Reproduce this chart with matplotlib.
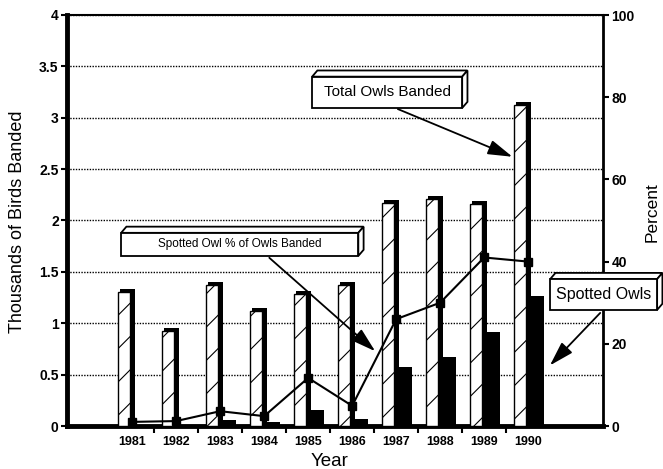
import numpy as np
import matplotlib
matplotlib.use("Agg")
import matplotlib.pyplot as plt
from matplotlib.patches import Rectangle, Polygon, FancyArrowPatch

plt.rcParams['font.family'] = ['Liberation Sans', 'DejaVu Sans']
plt.rcParams['hatch.linewidth'] = 0.8

# data
years = ['1981', '1982', '1983', '1984', '1985', '1986', '1987', '1988', '1989', '1990']
total_owls = [1.30, 0.92, 1.37, 1.12, 1.28, 1.37, 2.17, 2.21, 2.16, 3.12]    # thousands
spotted_owls = [0.01, 0.01, 0.06, 0.04, 0.16, 0.07, 0.57, 0.67, 0.91, 1.27]  # thousands
spotted_pct = [1.0, 1.2, 3.6, 2.4, 11.7, 4.9, 26, 30, 41, 40]                # percent

left_ticks = [0, 0.5, 1, 1.5, 2, 2.5, 3, 3.5, 4]
right_ticks = [0, 20, 40, 60, 80, 100]

W, H = 663, 469
fig = plt.figure(figsize=(W / 100, H / 100), dpi=100)
ax = fig.add_axes([67 / W, 1 - 426 / H, (603 - 67) / W, (426 - 15) / H])
ax2 = ax.twinx()

x = np.arange(1, len(years) + 1)
h = np.array(total_owls)

# hatched bars with a dark 3D side, black bars next to them
ax.bar(x - 0.105, h + 0.03, width=0.35, color='black', zorder=2)
ax.bar(x - 0.19, h, width=0.28, color='white', edgecolor='black',
       hatch='/', linewidth=1.0, zorder=3)
ax.bar(x + 0.215, spotted_owls, width=0.3, color='black', zorder=3)

ax.set_xlim(-0.48, 11.7)
ax.set_ylim(0, 4)
ax.set_yticks(left_ticks)
ax.set_yticklabels(['%g' % t for t in left_ticks])
ax.set_xticks(np.arange(1.5, 10, 1))
ax.set_xticklabels([])
ax.set_xticks(x, minor=True)
ax.set_xticklabels(years, minor=True)
ax.tick_params(axis='x', which='major', direction='out', length=5, width=1.5)
ax.tick_params(axis='x', which='minor', length=0, pad=7, labelsize=9)
ax.tick_params(axis='y', direction='out', length=4, width=1.5, pad=2, labelsize=10)
for lab in ax.get_xticklabels(minor=True) + ax.get_yticklabels():
    lab.set_fontweight('bold')

ax.set_axisbelow(True)
ax.yaxis.grid(True, linestyle=(0, (1, 1)), color='black', linewidth=1.0)

ax.spines['left'].set_linewidth(3.5)
ax.spines['bottom'].set_linewidth(3.5)
ax.spines['top'].set_linewidth(1.5)
ax.spines['right'].set_visible(False)
for s in ['left', 'bottom', 'top']:
    ax2.spines[s].set_visible(False)
ax2.spines['right'].set_linewidth(2)

# percent line
ax2.plot(x, spotted_pct, color='black', lw=1.5, marker='s', ms=6, zorder=4)
ax2.set_ylim(0, 100)
ax2.set_yticks(right_ticks)
ax2.set_yticklabels([str(t) for t in right_ticks])
ax2.tick_params(axis='y', direction='out', length=4, width=1.5, pad=2, labelsize=10)
for lab in ax2.get_yticklabels():
    lab.set_fontweight('bold')

fig.text(18 / W, 1 - 222 / H, 'Thousands of Birds Banded', rotation=90,
         ha='center', va='center', fontsize=13)
fig.text(652 / W, 1 - 212 / H, 'Percent', rotation=90,
         ha='center', va='center', fontsize=12.5)
fig.text(330 / W, 1 - 461 / H, 'Year', ha='center', va='center', fontsize=13.5)


def box3d(x0, y0, x1, y1, text, fs):
    dx, dy = 0.12, 0.06
    tr = ax.transData
    kw = dict(facecolor='white', edgecolor='black', linewidth=1.3,
              transform=tr, clip_on=False, zorder=10)
    ax2.add_patch(Polygon([(x0, y1), (x1, y1), (x1 + dx, y1 + dy), (x0 + dx, y1 + dy)], **kw))
    ax2.add_patch(Polygon([(x1, y0), (x1, y1), (x1 + dx, y1 + dy), (x1 + dx, y0 + dy)], **kw))
    ax2.add_patch(Rectangle((x0, y0), x1 - x0, y1 - y0, **kw))
    ax2.text((x0 + x1) / 2, (y0 + y1) / 2, text, transform=tr, ha='center',
             va='center', fontsize=fs, zorder=11, clip_on=False)


def arrow(p0, p1):
    a = FancyArrowPatch(p0, p1, transform=ax.transData,
                        arrowstyle='-|>,head_length=1.5,head_width=0.45',
                        mutation_scale=10, color='black', lw=1.3,
                        clip_on=False, zorder=9)
    ax2.add_patch(a)


box3d(5.09, 3.095, 8.50, 3.40, 'Total Owls Banded', 11)
arrow((6.98, 3.095), (9.70, 2.61))

box3d(0.75, 1.655, 6.14, 1.88, 'Spotted Owl % of Owls Banded', 8.5)
arrow((4.07, 1.655), (6.57, 0.71))

box3d(10.5, 1.13, 12.93, 1.43, 'Spotted Owls', 11.5)
arrow((11.68, 1.12), (10.45, 0.57))

fig.savefig('out.png', dpi=100)
